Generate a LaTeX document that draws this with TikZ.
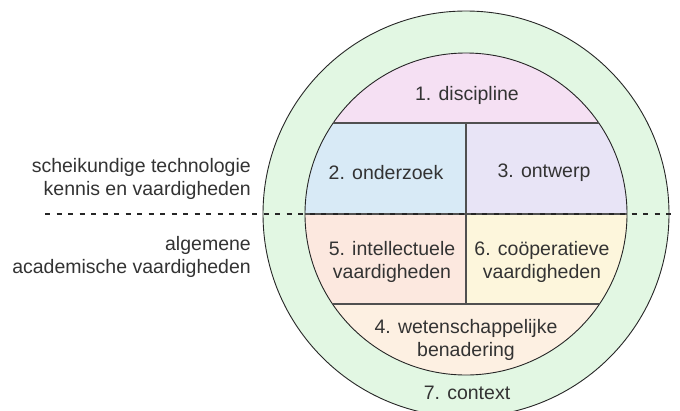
\documentclass[tikz,border=0pt]{standalone}
\usepackage{fontspec}
\setmainfont{Liberation Sans}
\definecolor{ctxgreen}{HTML}{E2F7E3}
\definecolor{cpink}{HTML}{F5E0F3}
\definecolor{cblue}{HTML}{D8EAF6}
\definecolor{clav}{HTML}{E8E4F6}
\definecolor{csalmon}{HTML}{FCE8DF}
\definecolor{cyellow}{HTML}{FDF6DC}
\definecolor{cpeach}{HTML}{FDF0E2}
\definecolor{divider}{HTML}{505050}
\definecolor{txt}{HTML}{333333}
\tikzset{
  lbl/.style={text=txt, font=\fontsize{19.5}{23}\selectfont, align=center, inner sep=0pt},
  sidelbl/.style={lbl, align=right, anchor=east},
  divline/.style={draw=divider, line width=2.6pt},
  ring/.style={draw=black!85, line width=0.9pt},
}
\begin{document}
\begin{tikzpicture}[x=1pt,y=-1pt]
\useasboundingbox (0,0) rectangle (680,410);
\fill[white] (0,0) rectangle (680,410);
% outer ring
\fill[ctxgreen] (466,214) circle[radius=203];
% inner pieces
\begin{scope}
  \clip (466,214) circle[radius=161];
  \fill[cpink] (300,40) rectangle (640,123);
  \fill[cblue] (300,123) rectangle (466,214);
  \fill[clav] (466,123) rectangle (640,214);
  \fill[csalmon] (300,214) rectangle (466,304);
  \fill[cyellow] (466,214) rectangle (640,304);
  \fill[cpeach] (300,304) rectangle (640,390);
\end{scope}
\draw[ring] (466,214) circle[radius=203];
\draw[ring] (466,214) circle[radius=161];
% dividers
\coordinate (d1l) at (332.8,123); \coordinate (d1r) at (599.2,123);
\coordinate (d2l) at (305,214); \coordinate (d2r) at (627,214);
\coordinate (d3l) at (332.5,304); \coordinate (d3r) at (599.5,304);
\coordinate (vt) at (466,123); \coordinate (vb) at (466,304);
\draw[divline] (d1l) -- (d1r);
\draw[divline] (d2l) -- (d2r);
\draw[divline] (d3l) -- (d3r);
\draw[divline] (vt) -- (vb);
% dashed separator
\coordinate (dsl) at (45,214); \coordinate (dsr) at (674,214);
\draw[draw=black!85, line width=2pt, dash pattern=on 5pt off 6.5pt] (dsl) -- (dsr);
% labels
\node[lbl] (n1) at (467,95) {1. discipline};
\node[lbl] (n2) at (386,173) {2. onderzoek};
\node[lbl] (n3) at (544,173) {3. ontwerp};
\node[lbl] (n5) at (392,262) {5. intellectuele\\vaardigheden};
\node[lbl] (n6) at (542,262) {6. coöperatieve\\vaardigheden};
\node[lbl] (n4) at (466,340) {4. wetenschappelijke\\benadering};
\node[lbl] (n7) at (467,393) {7. context};
\node[sidelbl] (s1) at (251,179) {scheikundige technologie\\kennis en vaardigheden};
\node[sidelbl] (s2) at (251,257) {algemene\\academische vaardigheden};
\end{tikzpicture}
\end{document}
